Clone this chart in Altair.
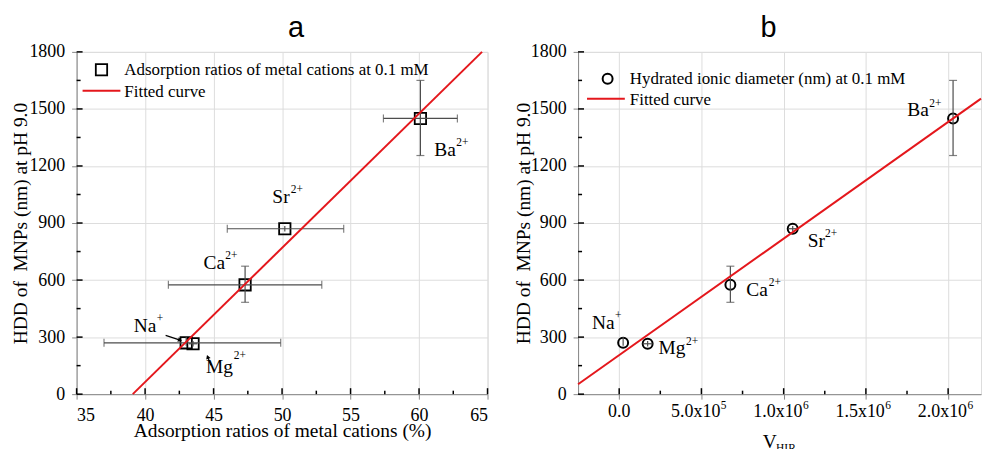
import altair as alt
import pandas as pd

# ---- measured values -------------------------------------------------------
IONS = ["Na", "Mg", "Ca", "Sr", "Ba"]
CHARGES = ["+", "2+", "2+", "2+", "2+"]

# hydrodynamic diameter of MNPs (nm) at pH 9.0 with error range
HDD = [270, 265, 575, 870, 1450]
HDD_LO = [255, 250, 483, 855, 1255]
HDD_HI = [300, 280, 673, 885, 1650]

# adsorption ratio of the metal cations (%) with error range
ADS = [43.0, 43.5, 47.3, 50.2, 60.1]
ADS_LO = [37.0, 43.2, 41.7, 46.0, 57.4]
ADS_HI = [49.9, 43.8, 52.9, 54.5, 62.8]

# V_HIR with error range
VHIR = [2.4e4, 1.73e5, 6.76e5, 1.055e6, 2.03e6]
VHIR_LO = [2.4e4, 1.43e5, 6.76e5, 1.03e6, 2.03e6]
VHIR_HI = [2.4e4, 2.03e5, 6.76e5, 1.08e6, 2.03e6]

# fitted straight lines (end points)
FIT_A_X = [39.1, 64.6]
FIT_A_Y = [0, 1800]
FIT_B_X = [-2.5e5, 2.2e6]
FIT_B_Y = [52, 1554]

# axis ticks
A_X_MAJOR = [35, 40, 45, 50, 55, 60, 65]
A_X_MINOR = [37.5, 42.5, 47.5, 52.5, 57.5, 62.5]
Y_MAJOR = [0, 300, 600, 900, 1200, 1500, 1800]
Y_MINOR = [150, 450, 750, 1050, 1350, 1650]
B_X_MAJOR = [0, 5e5, 1e6, 1.5e6, 2e6]
B_X_MINOR = [2.5e5, 7.5e5, 1.25e6, 1.75e6]
B_X_MANT = ["0.0", "5.0x10", "1.0x10", "1.5x10", "2.0x10"]
B_X_EXP = ["", "5", "6", "6", "6"]

PANEL_TITLES = ["a", "b"]
LEGEND_A = ["Adsorption ratios of metal cations at 0.1 mM", "Fitted curve"]
LEGEND_B = ["Hydrated ionic diameter (nm) at 0.1 mM", "Fitted curve"]

# callout arrows for the overlapping Na / Mg points (data coordinates)
ARROW_NA = dict(x=41.5, y=309, x2=42.55, y2=284)
ARROW_MG = dict(x=44.8, y=152, x2=44.57, y2=196)

# ---- styling ---------------------------------------------------------------
W_A, W_B, H = 413, 405, 344
SERIF = "Liberation Serif"
ERR = "#4d4d4d"
RED = "#e4171c"

# label placement in pixels relative to each point: (dx, dy, sup_dx, sup_dy)
OFF_A = {"Ba": (14, 38, 36, 28), "Sr": (-12.5, -26, 6, -36),
         "Ca": (-41.7, -16, -20, -26), "Na": (-52.7, -11.3, -29.5, -21),
         "Mg": (13, 29.7, 41, 15)}
OFF_B = {"Ba": (-46, -2, -24, -12), "Sr": (15, 18, 32.5, 8.3),
         "Ca": (16, 11.7, 38.5, 1), "Na": (-31.3, -14, -8.3, -24),
         "Mg": (10.8, 10, 38.6, 1.7)}


def qx(field, scale):
    return alt.X(field, scale=scale)


def qy(field, scale):
    return alt.Y(field, scale=scale)


def tick_layers(xs_major, xs_minor, xscale, yscale):
    """Inward-pointing major/minor ticks on the bottom and left axis lines."""
    layers = []
    for vals, ln in ((xs_major, 6), (xs_minor, 3.5)):
        layers.append(
            alt.Chart(pd.DataFrame({"x": vals})).mark_rule(color="black", strokeWidth=1.5)
            .encode(x=qx("x:Q", xscale), y=alt.value(H), y2=alt.value(H - ln))
        )
    for vals, ln in ((Y_MAJOR, 6), (Y_MINOR, 4)):
        layers.append(
            alt.Chart(pd.DataFrame({"y": vals})).mark_rule(color="black", strokeWidth=1.5)
            .encode(y=qy("y:Q", yscale), x=alt.value(0), x2=alt.value(ln))
        )
    return layers


def error_layers(df, xscale, yscale, x_cap_min, y_cap_min):
    hbar = alt.Chart(df).mark_rule(color=ERR, strokeWidth=1.2).encode(
        x=qx("xlo:Q", xscale), x2="xhi:Q", y=qy("y:Q", yscale))
    vbar = alt.Chart(df).mark_rule(color=ERR, strokeWidth=1.2).encode(
        x=qx("x:Q", xscale), y=qy("ylo:Q", yscale), y2="yhi:Q")
    wide = df[(df.xhi - df.xlo) > x_cap_min]
    tall = df[(df.yhi - df.ylo) > y_cap_min]
    xcaps = pd.concat([pd.DataFrame({"x": wide.xlo, "y": wide.y}),
                       pd.DataFrame({"x": wide.xhi, "y": wide.y})])
    ycaps = pd.concat([pd.DataFrame({"x": tall.x, "y": tall.ylo}),
                       pd.DataFrame({"x": tall.x, "y": tall.yhi})])
    layers = [hbar, vbar]
    if len(xcaps):
        layers.append(alt.Chart(xcaps).mark_tick(orient="vertical", size=8, thickness=1.2, color=ERR)
                      .encode(x=qx("x:Q", xscale), y=qy("y:Q", yscale)))
    if len(ycaps):
        layers.append(alt.Chart(ycaps).mark_tick(orient="horizontal", size=8, thickness=1.2, color=ERR)
                      .encode(x=qx("x:Q", xscale), y=qy("y:Q", yscale)))
    return layers


def ion_labels(df, offsets, xscale, yscale):
    layers = []
    for _, row in df.iterrows():
        dx, dy, sdx, sdy = offsets[row.ion]
        one = pd.DataFrame([row])
        enc = dict(x=qx("x:Q", xscale), y=qy("y:Q", yscale))
        layers.append(alt.Chart(one).mark_text(
            font=SERIF, fontSize=19.5, align="left", baseline="alphabetic",
            dx=dx, dy=dy, color="black").encode(text="ion:N", **enc))
        layers.append(alt.Chart(one).mark_text(
            font=SERIF, fontSize=11.5, align="left", baseline="alphabetic",
            dx=sdx, dy=sdy, color="black").encode(text="charge:N", **enc))
    return layers


def legend_layers(labels, symbol, sym_x, sym_y, line_x, line_x2, line_y, text_x):
    d0 = pd.DataFrame({"t": [labels[0]]})
    d1 = pd.DataFrame({"t": [labels[1]]})
    if symbol == "square":
        sym = alt.Chart(d0).mark_point(shape="square", size=130, filled=False,
                                       color="black", strokeWidth=1.8, opacity=1)
    else:
        sym = alt.Chart(d0).mark_point(shape="circle", size=100, filled=False,
                                       color="black", strokeWidth=2, opacity=1)
    sym = sym.encode(x=alt.value(sym_x), y=alt.value(sym_y))
    txt0 = alt.Chart(d0).mark_text(font=SERIF, fontSize=17, align="left", baseline="middle",
                                   color="black").encode(
        x=alt.value(text_x), y=alt.value(sym_y), text="t:N")
    line = alt.Chart(d1).mark_rule(color=RED, strokeWidth=2).encode(
        x=alt.value(line_x), x2=alt.value(line_x2), y=alt.value(line_y))
    txt1 = alt.Chart(d1).mark_text(font=SERIF, fontSize=17, align="left", baseline="middle",
                                   color="black").encode(
        x=alt.value(text_x), y=alt.value(line_y + 1), text="t:N")
    return [sym, txt0, line, txt1]


def panel_title(letter, x):
    return alt.Chart(pd.DataFrame({"t": [letter]})).mark_text(
        font="Liberation Sans", fontSize=29, align="center", baseline="alphabetic",
        color="black").encode(x=alt.value(x), y=alt.value(-15), text="t:N")


y_scale = alt.Scale(domain=[0, 1800], nice=False, zero=False)
Y_TITLE = "HDD of\u00a0 MNPs (nm) at pH 9.0"

# ---- panel a ---------------------------------------------------------------
xa_scale = alt.Scale(domain=[35, 65], nice=False, zero=False)
pts_a = pd.DataFrame({"ion": IONS, "charge": CHARGES, "x": ADS, "y": HDD,
                      "xlo": ADS_LO, "xhi": ADS_HI, "ylo": HDD_LO, "yhi": HDD_HI})
fit_a = pd.DataFrame({"x": FIT_A_X, "y": FIT_A_Y})

points_a = alt.Chart(pts_a).mark_point(shape="square", size=130, filled=False, color="black",
                                       strokeWidth=1.8, opacity=1).encode(
    x=alt.X("x:Q", scale=xa_scale,
            axis=alt.Axis(values=A_X_MAJOR, title="Adsorption ratios of metal cations (%)",
                          format="d", labelBaseline="alphabetic", labelPadding=21,
                          labelFont=SERIF, titleBaseline="alphabetic", titleY=43)),
    y=alt.Y("y:Q", scale=y_scale,
            axis=alt.Axis(values=Y_MAJOR, title=Y_TITLE, format="d", labelPadding=7,
                          labelFont=SERIF, titleX=-50, titleBaseline="alphabetic",
                          titleAlign="center")),
)
line_a = alt.Chart(fit_a).mark_line(color=RED, strokeWidth=2).encode(
    x=qx("x:Q", xa_scale), y=qy("y:Q", y_scale))

arrows = []
for a in (ARROW_NA, ARROW_MG):
    ad = pd.DataFrame([a])
    arrows.append(alt.Chart(ad).mark_rule(color="black", strokeWidth=1.2).encode(
        x=qx("x:Q", xa_scale), x2="x2:Q", y=qy("y:Q", y_scale), y2="y2:Q"))
heads = [(ARROW_NA, 108), (ARROW_MG, 339)]
for a, ang in heads:
    hd = pd.DataFrame({"x": [a["x2"]], "y": [a["y2"]]})
    arrows.append(alt.Chart(hd).mark_point(shape="triangle-up", size=22, filled=True,
                                           color="black", opacity=1, angle=ang).encode(
        x=qx("x:Q", xa_scale), y=qy("y:Q", y_scale)))

panel_a = alt.layer(
    points_a,
    *error_layers(pts_a, xa_scale, y_scale, 1.0, 60),
    *tick_layers(A_X_MAJOR, A_X_MINOR, xa_scale, y_scale),
    *arrows,
    line_a,
    *ion_labels(pts_a, OFF_A, xa_scale, y_scale),
    *legend_layers(LEGEND_A, "square", 25, 18, 6, 44, 39, 48),
    panel_title(PANEL_TITLES[0], W_A / 2 + 14),
).properties(width=W_A, height=H)

# ---- panel b ---------------------------------------------------------------
xb_scale = alt.Scale(domain=[-2.5e5, 2.2e6], nice=False, zero=False)
pts_b = pd.DataFrame({"ion": IONS, "charge": CHARGES, "x": VHIR, "y": HDD,
                      "xlo": VHIR_LO, "xhi": VHIR_HI, "ylo": HDD_LO, "yhi": HDD_HI})
fit_b = pd.DataFrame({"x": FIT_B_X, "y": FIT_B_Y})

points_b = alt.Chart(pts_b).mark_point(shape="circle", size=100, filled=False, color="black",
                                       strokeWidth=2, opacity=1).encode(
    x=alt.X("x:Q", scale=xb_scale, axis=alt.Axis(labels=False, title=None, values=B_X_MAJOR)),
    y=alt.Y("y:Q", scale=y_scale,
            axis=alt.Axis(values=Y_MAJOR, title=Y_TITLE, format="d", labelPadding=7,
                          labelFont=SERIF, titleX=-49, titleBaseline="alphabetic",
                          titleAlign="center")),
)
line_b = alt.Chart(fit_b).mark_line(color=RED, strokeWidth=2).encode(
    x=qx("x:Q", xb_scale), y=qy("y:Q", y_scale))

ticks_b = pd.DataFrame({"x": B_X_MAJOR, "mant": B_X_MANT, "exp": B_X_EXP})
plain = ticks_b[ticks_b.exp == ""]
sci = ticks_b[ticks_b.exp != ""]
tick_text_b = [
    alt.Chart(plain).mark_text(font=SERIF, fontSize=18, align="center", baseline="alphabetic",
                               color="black").encode(
        x=qx("x:Q", xb_scale), y=alt.value(H + 22.7), text="mant:N"),
    alt.Chart(sci).mark_text(font=SERIF, fontSize=18, align="right", baseline="alphabetic",
                             dx=19, color="black").encode(
        x=qx("x:Q", xb_scale), y=alt.value(H + 22.7), text="mant:N"),
    alt.Chart(sci).mark_text(font=SERIF, fontSize=11.5, align="left", baseline="alphabetic",
                             dx=19.5, color="black").encode(
        x=qx("x:Q", xb_scale), y=alt.value(H + 15), text="exp:N"),
]
xtitle_b = pd.DataFrame({"main": ["V"], "sub": ["HIR"]})
title_text_b = [
    alt.Chart(xtitle_b).mark_text(font=SERIF, fontSize=19.5, align="left", baseline="alphabetic",
                                  color="black").encode(
        x=alt.value(185.5), y=alt.value(H + 54), text="main:N"),
    alt.Chart(xtitle_b).mark_text(font=SERIF, fontSize=11.5, align="left", baseline="alphabetic",
                                  color="black").encode(
        x=alt.value(199), y=alt.value(H + 58), text="sub:N"),
]

panel_b = alt.layer(
    points_b,
    *error_layers(pts_b, xb_scale, y_scale, 1e9, 60),
    *tick_layers(B_X_MAJOR, B_X_MINOR, xb_scale, y_scale),
    line_b,
    *ion_labels(pts_b, OFF_B, xb_scale, y_scale),
    *tick_text_b,
    *title_text_b,
    *legend_layers(LEGEND_B, "circle", 29.7, 27, 9, 47, 47, 52),
    panel_title(PANEL_TITLES[1], W_B / 2 - 11),
).properties(width=W_B, height=H)

chart = alt.hconcat(panel_a, panel_b, spacing=91, bounds="flush").properties(
    padding={"left": 10, "top": 12, "right": 0, "bottom": 0},
    background="white",
).configure_view(stroke=None).configure_axis(
    ticks=False, tickSize=0, grid=False, domainColor="black", domainWidth=1.8,
    labelFont=SERIF, labelFontSize=18, labelColor="black",
    titleFont=SERIF, titleFontSize=19.5, titleFontWeight="normal", titleColor="black",
).configure(style={
    "guide-label": {"font": SERIF, "fontSize": 18, "fill": "black"},
    "guide-title": {"font": SERIF, "fontSize": 19.5, "fontWeight": "normal", "fill": "black"},
})

chart.save("out.html", embed_options={"renderer": "svg", "actions": False})
